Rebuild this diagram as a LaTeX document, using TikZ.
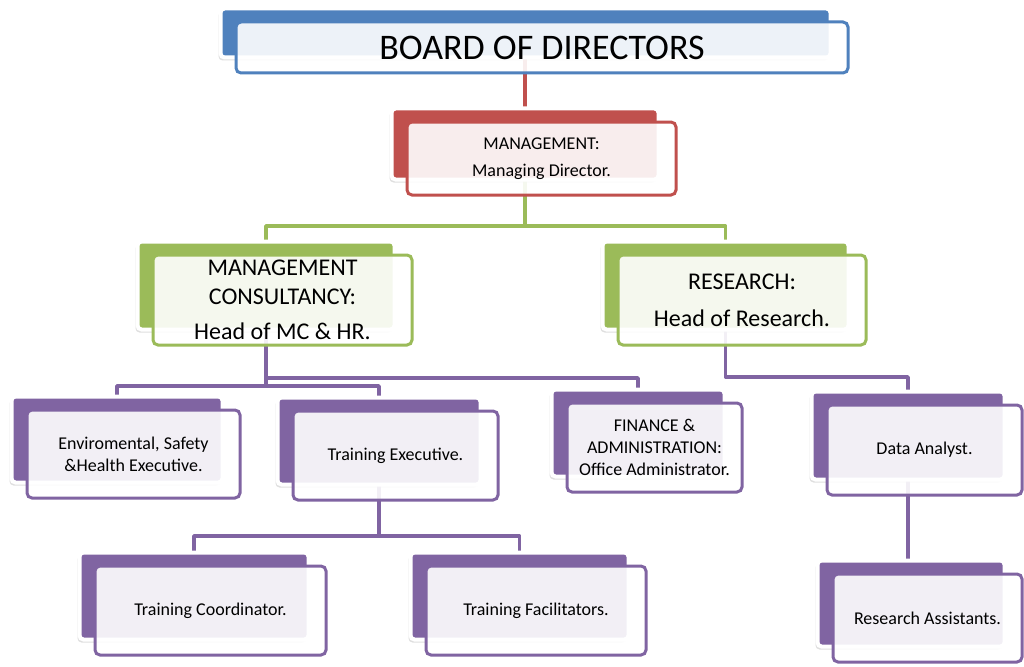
\documentclass[tikz,border=0pt]{standalone}
\usepackage{fontspec}
\setmainfont{Carlito}
\usetikzlibrary{fit,shadows}

\pgfdeclarelayer{lines}
\pgfdeclarelayer{backs}
\pgfsetlayers{lines,backs,main}

\definecolor{boardblue}{HTML}{4F81BD}
\definecolor{mgmtred}{HTML}{C0504D}
\definecolor{deptgreen}{HTML}{9BBB59}
\definecolor{staffpurple}{HTML}{8064A2}

\newcommand{\boardfont}{\fontsize{36}{43}\selectfont}
\newcommand{\headfont}{\fontsize{24}{29}\selectfont}
\newcommand{\stafffont}{\fontsize{18}{22}\selectfont}

\tikzset{
  unit/.style={draw=#1, line width=3pt, rounded corners=5pt, fill=white,
    fill opacity=0.9, text opacity=1, align=center, inner sep=0pt},
  boxsize/.style 2 args={minimum width=#1pt, minimum height=#2pt},
  backbox/.style={draw=white, line width=4pt, fill=#1, rounded corners=4pt,
    inner sep=0pt, drop shadow={shadow xshift=-2pt, shadow yshift=-3pt, opacity=0.25}},
  link/.style={draw=#1, line width=3.5pt, line join=round}
}

% solid box behind each unit
\newcommand{\backbox}[2]{%
  \node[backbox=#2, fit={([shift={(-14,-12)}]#1.north west) ([shift={(-19,-17)}]#1.south east)}] (#1-b) {};}

\begin{document}
\begin{tikzpicture}[x=1pt,y=-1pt]
\useasboundingbox (0,0) rectangle (1024,666);

% units
\node[unit=boardblue, boxsize={612}{51}, font=\boardfont] (bod) at (542,47.5) {BOARD OF DIRECTORS};
\node[unit=mgmtred, boxsize={269}{73}, font=\stafffont] (mgmt) at (541.5,158.5) {MANAGEMENT:\\[5pt]Managing Director.};
\node[unit=deptgreen, boxsize={259}{90}, font=\headfont] (mc) at (282.5,300) {MANAGEMENT\\CONSULTANCY:\\[6pt]Head of MC \& HR.};
\node[unit=deptgreen, boxsize={248}{90}, font=\headfont] (res) at (742,300) {RESEARCH:\\[8pt]Head of Research.};
\node[unit=staffpurple, boxsize={213}{88}, font=\stafffont] (env) at (133.5,454) {Enviromental, Safety\\\&Health Executive.};
\node[unit=staffpurple, boxsize={205}{89}, font=\stafffont] (tex) at (395.5,455.5) {Training Executive.};
\node[unit=staffpurple, boxsize={175}{89}, font=\stafffont] (fin) at (654.5,447.5) {FINANCE \&\\ADMINISTRATION:\\Office Administrator.};
\node[unit=staffpurple, boxsize={195}{90}, font=\stafffont] (da) at (924.5,450) {Data Analyst.};
\node[unit=staffpurple, boxsize={231}{89}, font=\stafffont] (tc) at (210.5,610.5) {Training Coordinator.};
\node[unit=staffpurple, boxsize={220}{89}, font=\stafffont] (tf) at (536,610.5) {Training Facilitators.};
\node[unit=staffpurple, boxsize={189}{88}, font=\stafffont] (ra) at (927.5,618) {Research Assistants.};

\begin{pgfonlayer}{backs}
\backbox{bod}{boardblue}
\backbox{mgmt}{mgmtred}
\backbox{mc}{deptgreen}
\backbox{res}{deptgreen}
\backbox{env}{staffpurple}
\backbox{tex}{staffpurple}
\backbox{fin}{staffpurple}
\backbox{da}{staffpurple}
\backbox{tc}{staffpurple}
\backbox{tf}{staffpurple}
\backbox{ra}{staffpurple}
\end{pgfonlayer}

% connectors
\coordinate (gbus) at (0,226);
\coordinate (pbus) at (0,378);
\coordinate (qbus) at (0,386);
\coordinate (rbus) at (0,377);
\coordinate (tbus) at (0,536);

\begin{pgfonlayer}{lines}
\fill[white] (0,0) rectangle (1024,666);
\draw[link=mgmtred] (mgmt-b.center |- bod-b.center) -- (mgmt-b.center);
\draw[link=deptgreen] (mgmt-b.center) -- (mgmt-b.center |- gbus);
\draw[link=deptgreen] (mc-b.center) |- (res-b.center |- gbus) -- (res-b.center);
\draw[link=staffpurple] (mc-b.center) |- (fin-b.center |- pbus) -- (fin-b.center);
\draw[link=staffpurple] (mc-b.center) -- (mc-b.center |- qbus);
\draw[link=staffpurple] (env-b.center) |- (tex-b.center |- qbus) -- (tex-b.center);
\draw[link=staffpurple] (res-b.center) |- (da-b.center |- rbus) -- (da-b.center);
\draw[link=staffpurple] (tex-b.center) -- (tex-b.center |- tbus);
\draw[link=staffpurple] (tc-b.center) |- (tf-b.center |- tbus) -- (tf-b.center);
\draw[link=staffpurple] (da-b.center) -- (da-b.center |- ra-b.center);
\end{pgfonlayer}
\end{tikzpicture}
\end{document}
